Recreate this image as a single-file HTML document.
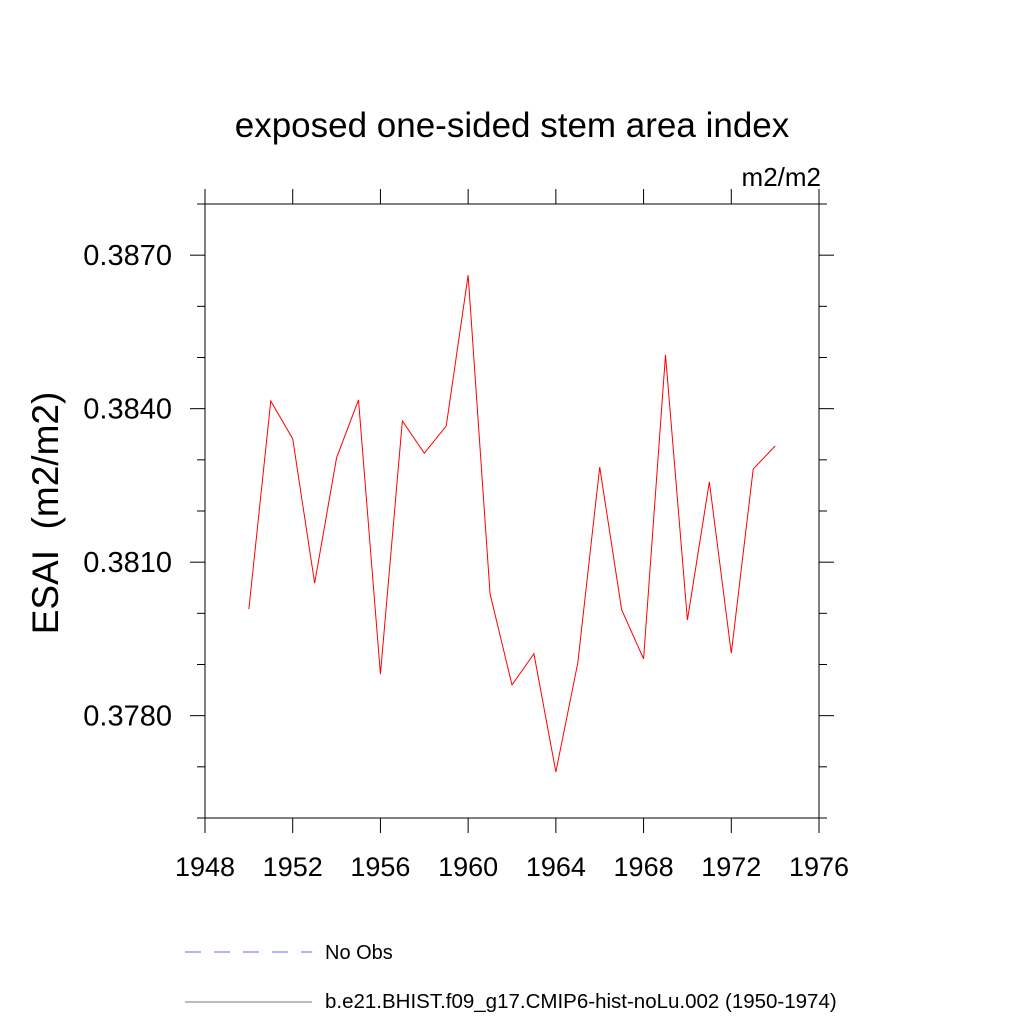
<!DOCTYPE html>
<html><head><meta charset="utf-8"><style>
html,body{margin:0;padding:0;background:#fff;}
svg text{font-family:"Liberation Sans",sans-serif;}
</style></head><body>
<svg id="chart" width="1024" height="1024" xmlns="http://www.w3.org/2000/svg">
<text x="512" y="137" font-size="35" text-anchor="middle">exposed one-sided stem area index</text>
<text x="821" y="186" font-size="26" text-anchor="end">m2/m2</text>
<text transform="translate(58,513) rotate(-90)" font-size="37" text-anchor="middle" xml:space="preserve">ESAI  (m2/m2)</text>
<g id="axes"></g>
<polyline id="series" fill="none" stroke="#ff0000" stroke-width="1"/>
<line x1="185" y1="952" x2="312" y2="952" stroke="#6666ff" stroke-width="1" stroke-dasharray="16,13"/>
<text x="325" y="959" font-size="20">No Obs</text>
<line x1="185" y1="1002" x2="312" y2="1002" stroke="#777" stroke-width="1"/>
<text x="325" y="1008" font-size="20.5">b.e21.BHIST.f09_g17.CMIP6-hist-noLu.002 (1950-1974)</text>
</svg>
<script>
const years=[1950,1951,1952,1953,1954,1955,1956,1957,1958,1959,1960,1961,1962,1963,1964,1965,1966,1967,1968,1969,1970,1971,1972,1973,1974];
const values=[0.38008,0.38415,0.38341,0.38059,0.38304,0.38417,0.37881,0.38376,0.38313,0.38366,0.38661,0.38038,0.37860,0.37921,0.37690,0.37903,0.38286,0.38007,0.37911,0.38505,0.37987,0.38257,0.37922,0.38282,0.38327];
const xTicks=[1948,1952,1956,1960,1964,1968,1972,1976];
const yTicks=[0.3780,0.3810,0.3840,0.3870];
const yTickLabels=["0.3780","0.3810","0.3840","0.3870"];
const L=205,R=819,T=204,B=818,X0=1948,X1=1976,Y0=0.3760,Y1=0.3880;
const xs=v=>L+(v-X0)/(X1-X0)*(R-L);
const ys=v=>B-(v-Y0)/(Y1-Y0)*(B-T);
const NS="http://www.w3.org/2000/svg";
const g=document.getElementById('axes');
function ln(x1,y1,x2,y2,name){const e=document.createElementNS(NS,'line');
e.setAttribute('x1',x1);e.setAttribute('y1',y1);e.setAttribute('x2',x2);e.setAttribute('y2',y2);
e.setAttribute('stroke','#000');e.setAttribute('stroke-width','1');


g.appendChild(e);}
function tx(x,y,s,anchor,size,name){const e=document.createElementNS(NS,'text');
e.setAttribute('x',x);e.setAttribute('y',y);e.setAttribute('font-size',size);e.setAttribute('text-anchor',anchor);e.textContent=s;


g.appendChild(e);}
const fr=document.createElementNS(NS,'rect');
fr.setAttribute('x',L);fr.setAttribute('y',T);fr.setAttribute('width',R-L);fr.setAttribute('height',B-T);
fr.setAttribute('fill','none');fr.setAttribute('stroke','#000');


g.appendChild(fr);
xTicks.forEach(v=>{const x=xs(v);ln(x,B,x,B+15,'x-tick');ln(x,T,x,T-15,'x-tick-top');tx(x,B+58,String(v),'middle','27','x-tick-label');});
for(let k=0;k<=12;k++){const v=Y0+k*0.001;const y=ys(v);const major=yTicks.some(t=>Math.abs(t-v)<1e-7);const len=major?15:8;
ln(L,y,L-len,y,'y-tick');ln(R,y,R+len,y,'y-tick-right');}
yTicks.forEach((v,i)=>tx(L-33,ys(v)+10,yTickLabels[i],'end','29','y-tick-label'));
document.getElementById('series').setAttribute('points',years.map((y,i)=>xs(y)+','+ys(values[i])).join(' '));
</script>
</body></html>
